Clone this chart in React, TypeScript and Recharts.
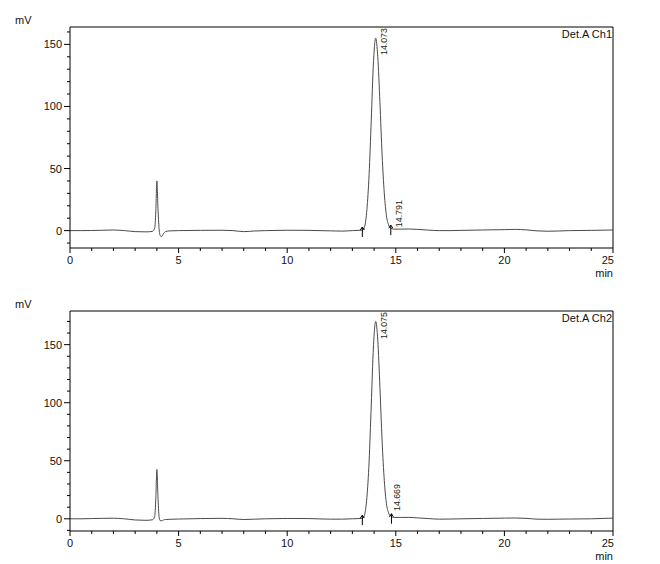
import React from 'react';
import { ComposedChart, Line, XAxis, YAxis, ReferenceLine, ReferenceDot } from 'recharts';

// Det.A Ch1 trace: retention time (min) / signal (mV)
const ch1Time = [
  0, 0.5, 1, 1.5, 2, 2.5, 3, 3.5, 3.8, 3.9, 3.95, 4, 4.05, 4.1, 4.15, 4.22, 4.3, 4.4, 4.6, 5,
  6, 7, 7.5, 8, 8.5, 9, 10, 11, 12, 12.5, 13, 13.4, 13.5, 13.57, 13.67, 13.77, 13.87, 13.97,
  14.073, 14.17, 14.27, 14.37, 14.47, 14.57, 14.67, 14.77, 14.9, 15.2, 15.6, 16, 16.5, 17,
  17.5, 18, 19, 20, 20.5, 21, 21.5, 22, 22.5, 23, 24, 25,
];
const ch1Signal = [
  0, 0, 0.1, 0.3, 0.5, 0, -0.8, -1, -0.6, 2, 15, 40, 18, 2, -4, -4.8, -2.5, -0.8, -0.2, 0,
  0.2, 0.3, 0, -0.8, -0.3, 0, 0.3, 0.2, -0.2, -0.4, 0, 0.3, 0.8, 3.5, 17, 45, 89, 135,
  155, 140, 103, 61, 30, 12, 4.5, 2, 1.2, 1.2, 1.3, 1, 0.4, 0,
  0, 0.2, 0.5, 0.8, 1, 0.6, -0.2, -0.5, -0.3, 0, 0.2, 0.5,
];

// Det.A Ch2 trace
const ch2Time = [
  0, 0.5, 1, 1.5, 2, 2.5, 3, 3.5, 3.8, 3.9, 3.95, 4, 4.05, 4.1, 4.15, 4.22, 4.3, 4.4, 4.6, 5,
  6, 7, 7.5, 8, 8.5, 9, 10, 11, 12, 12.5, 13, 13.4, 13.5, 13.57, 13.67, 13.77, 13.87, 13.97,
  14.075, 14.17, 14.27, 14.37, 14.47, 14.57, 14.67, 14.77, 14.9, 15.2, 15.6, 16, 16.5, 17,
  17.5, 18, 19, 20, 20.5, 21, 21.5, 22, 22.5, 23, 24, 25,
];
const ch2Signal = [
  0, 0, 0.2, 0.4, 0.5, 0, -1, -1.3, -0.8, 2, 17, 42.5, 19, 2, -1.5, -1.8, -1, -0.6, -0.4, -0.2,
  0.2, 0.4, 0, -0.6, -0.3, 0, 0.3, 0.2, -0.3, -0.3, 0, 0.3, 0.9, 4, 18.5, 49, 98, 148,
  170, 154, 113, 67, 33, 13, 5, 2.2, 1.2, 1.2, 1.2, 0.8, 0.2, -0.3,
  -0.2, 0, 0.3, 0.6, 0.7, 0.4, -0.3, -0.4, -0.3, -0.2, 0, 0.6,
];

// integrated peaks
const ch1PeakTimes = [14.073, 14.791];
const ch1PeakHeights = [155, 1.2];
const ch1PeakLabels = ['14.073', '14.791'];
const ch1MarkTimes = [13.46, 14.77];
const ch1MarkLevels = [0.5, 2];

const ch2PeakTimes = [14.075, 14.669];
const ch2PeakHeights = [170, 5];
const ch2PeakLabels = ['14.075', '14.669'];
const ch2MarkTimes = [13.46, 14.8];
const ch2MarkLevels = [0.6, 1.8];

const timeTicks = [0, 1, 2, 3, 4, 5, 6, 7, 8, 9, 10, 11, 12, 13, 14, 15, 16, 17, 18, 19, 20, 21, 22, 23, 24, 25];
const ch1Ticks = [-10, 0, 10, 20, 30, 40, 50, 60, 70, 80, 90, 100, 110, 120, 130, 140, 150, 160];
const ch2Ticks = [-10, 0, 10, 20, 30, 40, 50, 60, 70, 80, 90, 100, 110, 120, 130, 140, 150, 160, 170];

const FONT = '"Liberation Sans", Arial, sans-serif';
const TRACE = '#4a4a4a';

const TimeTick = (props: any) => {
  const { x, y, payload } = props;
  const v = payload.value;
  const major = v % 5 === 0;
  const last = v === 25;
  return (
    <g>
      <line x1={x} x2={x} y1={y} y2={y + (major ? 5 : 3)} stroke="#000" />
      {major && (
        <text x={last ? x + 1 : x} y={y + 16} textAnchor={last ? 'end' : 'middle'} fontSize={11} fontFamily={FONT} fill="#111">
          {v}
        </text>
      )}
    </g>
  );
};

const SignalTick = (props: any) => {
  const { x, y, payload } = props;
  const v = payload.value;
  const major = v % 50 === 0;
  return (
    <g>
      <line x1={x - (major ? 6 : 3)} x2={x} y1={y} y2={y} stroke="#000" />
      {major && (
        <text x={x - 8} y={y + 4} textAnchor="end" fontSize={11} fontFamily={FONT} fill="#111">
          {v}
        </text>
      )}
    </g>
  );
};

const markShape = (props: any) => {
  const { cx, cy } = props;
  return (
    <path
      d={`M${cx},${cy + 7} L${cx},${cy - 3} M${cx - 2},${cy} L${cx},${cy - 3} L${cx + 2},${cy}`}
      stroke="#000"
      fill="none"
    />
  );
};

const labelShape = (text: string, plotTop: number) => (props: any) => {
  const { cx, cy } = props;
  const x = cx + 11;
  const y = Math.max(cy - 2, plotTop + 28);
  return (
    <text x={x} y={y} transform={`rotate(-90 ${x} ${y})`} fontSize={8.8} fontFamily={FONT} fill="#222">
      {text}
    </text>
  );
};

interface PanelProps {
  time: number[];
  signal: number[];
  peakTimes: number[];
  peakHeights: number[];
  peakLabels: string[];
  markTimes: number[];
  markLevels: number[];
  ticks: number[];
  domain: [number, number];
  channel: string;
  top: number;
  axisHeight: number;
  offset: number;
}

const Panel = ({ time, signal, peakTimes, peakHeights, peakLabels, markTimes, markLevels, ticks, domain, channel, top, axisHeight, offset }: PanelProps) => {
  const data = time.map((t, i) => ({ t, v: signal[i] }));
  const axisY = 282 - axisHeight;
  return (
    <div style={{ position: 'absolute', left: 0, top: offset, width: 660, height: 282 }}>
      <ComposedChart width={660} height={282} data={data} margin={{ top, right: 47, bottom: 0, left: 0 }}>
        <XAxis
          dataKey="t"
          type="number"
          domain={[0, 25]}
          ticks={timeTicks}
          interval={0}
          allowDataOverflow
          height={axisHeight}
          tickLine={false}
          tickSize={0}
          tickMargin={0}
          axisLine={{ stroke: '#000' }}
          tick={<TimeTick />}
        />
        <YAxis
          type="number"
          domain={domain}
          ticks={ticks}
          interval={0}
          allowDataOverflow
          width={70}
          tickLine={false}
          tickSize={0}
          tickMargin={0}
          axisLine={{ stroke: '#000' }}
          tick={<SignalTick />}
        />
        <ReferenceLine y={domain[1]} stroke="#000" ifOverflow="visible" />
        <ReferenceLine x={25} stroke="#000" ifOverflow="visible" />
        <Line type="monotone" dataKey="v" stroke={TRACE} strokeWidth={1} dot={false} isAnimationActive={false} />
        {markTimes.map((t, i) => (
          <ReferenceDot key={'m' + i} x={t} y={markLevels[i]} ifOverflow="visible" shape={markShape} />
        ))}
        {peakTimes.map((t, i) => (
          <ReferenceDot key={'p' + i} x={t} y={peakHeights[i]} ifOverflow="visible" shape={labelShape(peakLabels[i], top)} />
        ))}
      </ComposedChart>
      <svg width={660} height={282} style={{ position: 'absolute', left: 0, top: 0, pointerEvents: 'none' }}>
        <text x={15} y={top - 3} fontSize={11} fontFamily={FONT} fill="#111">mV</text>
        <text x={612} y={top + 10.5} textAnchor="end" fontSize={11} fontFamily={FONT} fill="#111">{channel}</text>
        <text x={613} y={axisY + 28.5} textAnchor="end" fontSize={11} fontFamily={FONT} fill="#111">min</text>
      </svg>
    </div>
  );
};

export default function App() {
  return (
    <div style={{ position: 'absolute', left: 0, top: 0, width: 660, height: 564, background: '#fff' }}>
      <Panel
        time={ch1Time}
        signal={ch1Signal}
        peakTimes={ch1PeakTimes}
        peakHeights={ch1PeakHeights}
        peakLabels={ch1PeakLabels}
        markTimes={ch1MarkTimes}
        markLevels={ch1MarkLevels}
        ticks={ch1Ticks}
        domain={[-14, 164]}
        channel="Det.A Ch1"
        top={27}
        axisHeight={34}
        offset={0}
      />
      <Panel
        time={ch2Time}
        signal={ch2Signal}
        peakTimes={ch2PeakTimes}
        peakHeights={ch2PeakHeights}
        peakLabels={ch2PeakLabels}
        markTimes={ch2MarkTimes}
        markLevels={ch2MarkLevels}
        ticks={ch2Ticks}
        domain={[-10.5, 179]}
        channel="Det.A Ch2"
        top={29}
        axisHeight={33}
        offset={282}
      />
    </div>
  );
}
